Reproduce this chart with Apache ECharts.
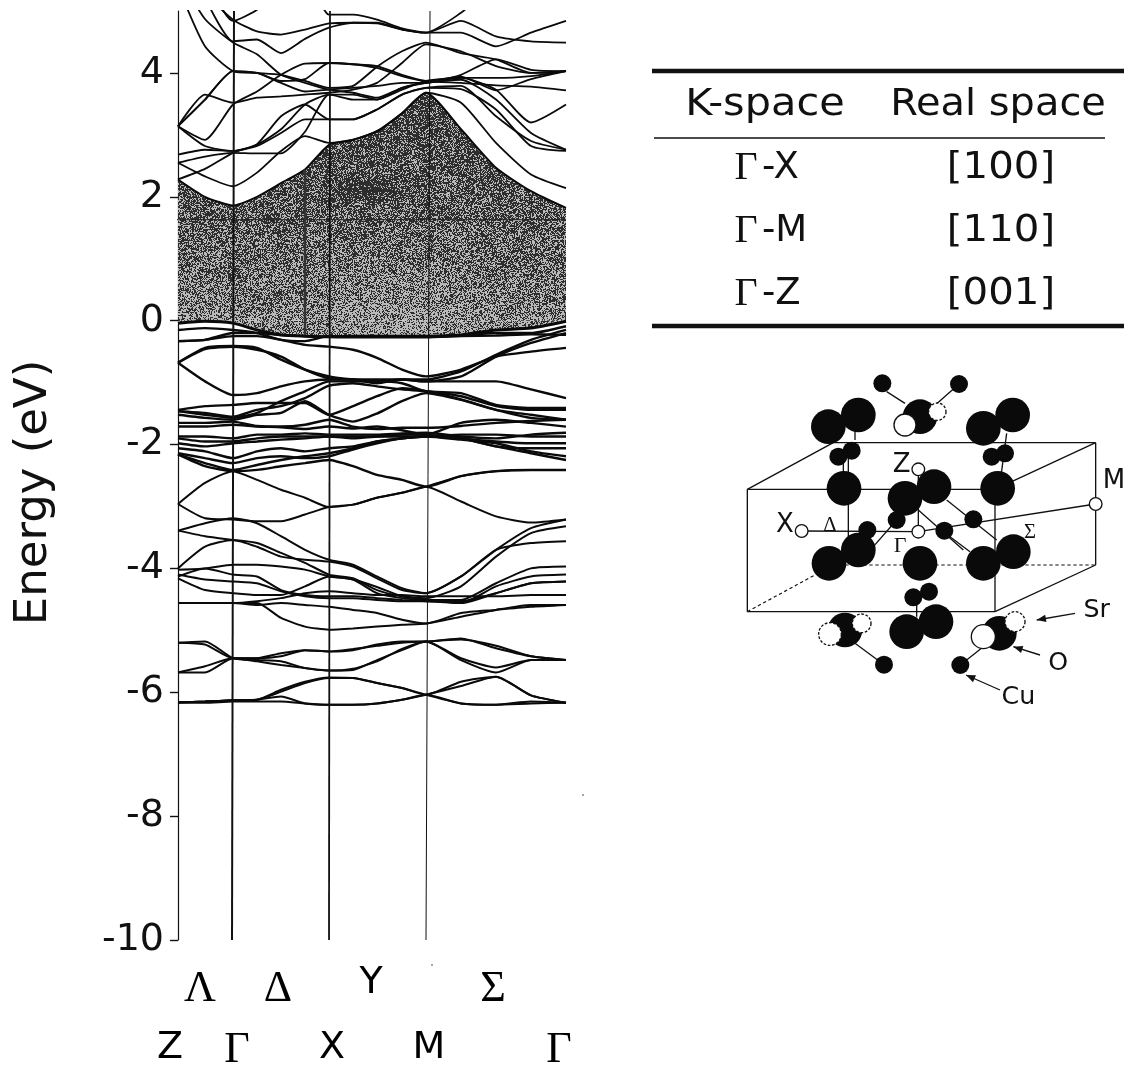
<!DOCTYPE html>
<html><head><meta charset="utf-8">
<style>html,body{margin:0;padding:0;background:#fff}#c{width:1131px;height:1068px}</style>
<script src="https://cdn.jsdelivr.net/npm/echarts@6/dist/echarts.min.js"></script>
</head><body><div id="c"></div>
<script>
// k-path sample positions (Z=0, Gamma=55, X=151, M=248, Gamma=388)
const kPath = [0,27,55,79,103,127,151,175,199,224,248,283,318,353,388];
const energyTicks = [-10,-8,-6,-4,-2,0,2,4];
const conductionEdge = [2.28,2.0,1.86,2.0,2.22,2.44,2.84,2.92,3.06,3.35,3.68,3.09,2.47,2.09,1.82];
const valenceEdge = [-.04,-.01,-.04,-.15,-.23,-.25,-.26,-.25,-.25,-.25,-.25,-.23,-.15,-.12,-.01];
const upperBands = [
 [2.55,2.33,2.17,2.39,2.74,2.98,2.87,2.92,3.06,3.35,3.68,3.52,2.87,2.36,2.14],
 [2.68,2.76,2.74,2.82,3.03,3.25,3.25,3.25,3.41,3.65,3.76,3.74,3.41,2.82,2.74],
 [2.55,2.65,2.71,2.70,2.70,3.05,3.65,3.65,3.57,3.76,3.84,3.89,3.57,3.03,2.76],
 [3.14,2.82,2.74,2.84,3.09,3.49,3.65,3.57,3.57,3.73,3.87,3.92,3.73,3.2,3.49],
 [3.14,3.65,3.52,3.60,3.62,3.65,3.68,3.73,3.84,4.16,4.46,4.35,4.11,4.0,4.03],
 [3.14,2.92,3.49,3.70,3.97,4.15,4.16,4.14,4.11,3.97,3.87,3.84,3.8,3.78,3.72],
 [5.4,4.43,4.03,4.0,3.97,3.87,3.76,3.79,4.1,4.35,4.49,4.32,4.22,4.0,4.03],
 [5.6,4.87,4.49,4.30,3.97,3.84,3.73,3.68,3.6,3.76,3.84,3.92,3.92,3.95,4.03],
 [6,5.2,4.51,4.54,4.32,4.55,4.73,4.81,4.81,4.70,4.65,4.84,4.59,4.51,4.49],
 [6,5.3,4.86,4.67,4.62,4.70,4.80,4.81,4.8,4.7,4.65,4.65,4.43,4.65,4.84],
 [6,5.5,4.84,5.02,5.4,5.6,4.94,4.94,4.86,4.72,4.65,4.97,5.4,5.4,5.4],
 [2.28,2.45,2.71,2.85,3.3,3.49,3.25,3.25,3.41,3.65,3.76,3.79,3.3,2.9,2.76],
 [3.14,3.57,4.03,4.0,3.87,3.9,4.16,4.14,4.08,3.95,3.87,3.94,3.72,3.9,4.03],
 [3.14,3.57,4.03,4.0,3.84,3.7,3.73,3.76,3.79,3.84,3.84,3.97,4.22,4.05,4.03]
];
const valenceBands = [
 [-.15,-.12,-.15,-.20,-.31,-.33,-.25,-.25,-.26,-.26,-.25,-.24,-.20,-.20,-.09],
 [-.33,-.31,-.20,-.20,-.23,-.25,-.26,-.27,-.27,-.27,-.27,-.25,-.24,-.22,-.23],
 [-.33,-.31,-.25,-.25,-.31,-.39,-.42,-.47,-.60,-.79,-.90,-.79,-.58,-.50,-.44],
 [-.68,-.44,-.41,-.44,-.63,-.79,-.90,-.95,-.98,-.95,-.95,-.82,-.55,-.31,-.15],
 [-.68,-.98,-1.20,-1.17,-1.06,-.98,-.95,-.95,-.95,-.95,-.98,-.98,-.98,-1.11,-1.25],
 [-.68,-.46,-.42,-.47,-.58,-.79,-.93,-.95,-1.01,-.95,-.98,-.90,-.58,-.36,-.20],
 [-1.44,-1.38,-1.36,-1.33,-1.33,-1.33,-1.52,-1.38,-1.22,-1.09,-1.14,-1.27,-1.44,-1.57,-1.60],
 [-1.46,-1.49,-1.55,-1.44,-1.38,-1.25,-1.05,-1.01,-1.06,-1.11,-1.14,-1.22,-1.38,-1.44,-1.44],
 [-1.46,-1.52,-1.57,-1.49,-1.30,-1.14,-.98,-.98,-.98,-1.01,-1.14,-1.17,-1.36,-1.41,-1.41],
 [-1.52,-1.57,-1.60,-1.52,-1.49,-1.30,-1.52,-1.63,-1.50,-1.30,-1.17,-1.28,-1.44,-1.52,-1.60],
 [-1.65,-1.65,-1.63,-1.70,-1.71,-1.68,-1.60,-1.71,-1.75,-1.73,-1.73,-1.70,-1.65,-1.62,-1.60],
 [-1.71,-1.71,-1.68,-1.71,-1.72,-1.75,-1.71,-1.74,-1.71,-1.77,-1.84,-1.65,-1.60,-1.65,-1.71],
 [-1.87,-1.87,-1.90,-1.84,-1.84,-1.82,-1.84,-1.84,-1.84,-1.82,-1.81,-1.87,-1.90,-1.84,-1.81],
 [-1.90,-1.95,-1.95,-1.90,-1.87,-1.87,-1.87,-1.87,-1.87,-1.87,-1.87,-1.84,-1.84,-1.87,-1.87],
 [-1.98,-2.03,-1.98,-1.95,-1.92,-1.90,-1.87,-1.90,-1.87,-1.84,-1.84,-1.90,-1.95,-1.98,-1.98],
 [-2.06,-2.11,-2.22,-2.11,-2.06,-2.11,-2.06,-2.03,-1.95,-1.90,-1.87,-1.90,-2.03,-2.06,-2.06],
 [-2.16,-2.30,-2.41,-2.33,-2.25,-2.19,-2.14,-2.06,-1.95,-1.90,-1.87,-1.90,-2.03,-2.14,-2.25],
 [-2.14,-2.22,-2.30,-2.22,-2.19,-2.22,-2.19,-2.08,-1.98,-1.90,-1.87,-1.92,-1.98,-2.11,-2.19],
 [-2.16,-2.35,-2.43,-2.41,-2.35,-2.30,-2.25,-2.35,-2.49,-2.57,-2.68,-2.51,-2.43,-2.41,-2.41]
];
const lowerBands = [
 [-2.96,-2.62,-2.43,-2.57,-2.73,-2.86,-3.01,-2.97,-2.86,-2.78,-2.68,-2.92,-3.16,-3.26,-3.21],
 [-2.96,-3.19,-3.21,-3.24,-3.24,-3.13,-3.01,-2.97,-2.86,-2.78,-2.68,-2.51,-2.43,-2.41,-2.41],
 [-3.39,-3.27,-3.19,-3.27,-3.48,-3.70,-3.86,-3.94,-4.13,-4.32,-4.40,-4.13,-3.70,-3.35,-3.21],
 [-3.39,-3.48,-3.54,-3.59,-3.75,-3.91,-4.10,-4.16,-4.35,-4.45,-4.48,-4.29,-3.81,-3.43,-3.32],
 [-4.0,-3.65,-3.54,-3.65,-3.81,-3.86,-3.89,-3.97,-4.16,-4.35,-4.40,-4.13,-3.70,-3.59,-3.56],
 [-4.02,-4.0,-3.94,-3.94,-3.97,-4.02,-4.13,-4.18,-4.40,-4.48,-4.51,-4.51,-4.24,-4.0,-3.97],
 [-4.13,-4.0,-4.10,-4.13,-4.35,-4.43,-4.45,-4.45,-4.48,-4.51,-4.53,-4.56,-4.29,-4.13,-4.10],
 [-4.16,-4.35,-4.40,-4.43,-4.43,-4.29,-4.13,-4.18,-4.30,-4.45,-4.50,-4.56,-4.40,-4.24,-4.21],
 [-4.10,-4.18,-4.21,-4.24,-4.37,-4.45,-4.48,-4.48,-4.51,-4.53,-4.53,-4.53,-4.40,-4.24,-4.21],
 [-4.56,-4.56,-4.56,-4.53,-4.48,-4.40,-4.37,-4.40,-4.43,-4.43,-4.45,-4.45,-4.45,-4.43,-4.43],
 [-4.56,-4.56,-4.56,-4.56,-4.80,-4.94,-4.99,-4.97,-4.94,-4.91,-4.89,-4.78,-4.67,-4.59,-4.59],
 [-4.56,-4.56,-4.56,-4.59,-4.56,-4.59,-4.62,-4.67,-4.72,-4.83,-4.89,-4.72,-4.67,-4.62,-4.59],
 [-5.20,-5.23,-5.45,-5.45,-5.42,-5.32,-5.34,-5.32,-5.23,-5.18,-5.18,-5.13,-5.29,-5.42,-5.48],
 [-5.20,-5.18,-5.45,-5.48,-5.50,-5.61,-5.65,-5.64,-5.48,-5.32,-5.18,-5.48,-5.68,-5.48,-5.48],
 [-5.68,-5.58,-5.45,-5.45,-5.37,-5.32,-5.34,-5.30,-5.25,-5.20,-5.18,-5.15,-5.25,-5.42,-5.48],
 [-5.68,-5.68,-5.45,-5.50,-5.56,-5.61,-5.65,-5.62,-5.50,-5.30,-5.18,-5.45,-5.60,-5.48,-5.48],
 [-6.16,-6.15,-6.13,-6.12,-5.96,-5.83,-5.76,-5.77,-5.85,-5.93,-6.04,-5.83,-5.75,-6.05,-6.17],
 [-6.16,-6.15,-6.13,-6.12,-6.07,-6.18,-6.20,-6.20,-6.18,-6.12,-6.04,-6.18,-6.20,-6.18,-6.17],
 [-6.16,-6.15,-6.13,-6.12,-5.99,-5.85,-5.77,-5.77,-5.85,-5.93,-6.04,-6.18,-6.20,-6.15,-6.17],
 [-6.17,-6.17,-6.15,-6.15,-6.15,-6.18,-6.20,-6.20,-6.18,-6.12,-6.04,-5.90,-5.75,-6.05,-6.17]
];
const symmetryTop = [56,152,252];
const symmetryBottom = [54,151,248];
const symmetryWidth = [2,1.8,1];
const pathNames = ['Λ','Δ','Y','Σ','Z','Γ','X','M','Γ'];
const pathK = [22,100,193,315,-8,59,154,251,381];
const pathDrop = [49,49,43,49,108,110,108,108,110];
const tableHead = ['K-space','Real space'];
const tableK = ['-X','-M','-Z'];
const tableReal = ['[100]','[110]','[001]'];
// crystal sketch (drawn in 3x coordinates inside its group)
const bigAtoms = [[295,200],[385,165],[570,170],[760,205],[848,165],[342,385],[612,380],[803,385],[525,415],[297,610],[385,570],[570,610],[760,610],[850,575],[345,810],[530,815],[618,785],[808,820]];
const smallAtoms = [[457,70],[687,72],[325,290],[365,272],[785,290],[825,280],[412,510],[500,480],[643,512],[730,478],[550,712],[597,695],[462,914],[691,915]];
const openAtoms = [[525,195,33,0],[622,155,26,1],[300,822,34,1],[395,790,28,1],[760,830,36,0],[855,785,30,1]];
const kPoints = [[565,328],[215,513],[565,515],[1097,432]];
const boxLines = [[52,388,795,388],[52,388,52,755],[52,755,795,755],[795,388,795,755],[52,388,310,248],[310,248,1097,248],[795,388,1097,248],[1097,248,1097,615],[795,755,1097,615],[355,248,355,610],[215,513,565,515],[565,515,1097,432],[565,328,565,515],[470,95,525,130],[687,72,610,140],[650,420,800,540],[640,515,720,575],[565,450,700,570],[412,510,340,590],[500,480,430,560],[462,914,375,850],[691,915,760,860],[340,370,340,280],[375,240,375,190],[810,370,830,220],[560,720,560,770]];
const dashLines = [[52,755,310,615],[310,615,1097,615]];
const arrows = [[1035,760,920,780],[930,885,850,860],[810,990,708,945]];
const sketchText = [['M',1152,365,78,0],['Z',515,315,78,0],['X',165,495,78,0],['Δ',300,497,62,1],['Γ',510,560,66,1],['Σ',900,518,62,1],['Sr',1100,750,76,0],['O',985,910,76,0],['Cu',865,1012,76,0]];
const strayDots = [[583,795],[432,965]];
const SANS='"DejaVu Sans"', SERIF='"Liberation Serif"';

// stippled texture for the shaded gap (deterministic generator)
function stipple(){
  const c=document.createElement('canvas'); c.width=1131; c.height=1068;
  const g=c.getContext('2d'), im=g.createImageData(1131,1068); let s=12345;
  for(let y=0;y<1068;y++)for(let x=0;x<1131;x++){
    s=(s*1664525+1013904223)>>>0;
    const r=s/4294967296;
    let p=0.74-(y-120)/200*0.26;
    const cx=(x-395)/80, cy=(y-330)/60;
    p-=0.14*Math.exp(-(cx*cx+cy*cy));
    const ex=(x-180)/60, ey=(y-330)/30;
    p-=0.1*Math.exp(-(ex*ex+ey*ey));
    const bx=(x-368)/35, by=(y-190)/12;
    p+=0.25*Math.exp(-(bx*bx+by*by));
    const v=r<p?45:185, i=(y*1131+x)*4;
    im.data[i]=im.data[i+1]=im.data[i+2]=v; im.data[i+3]=255;
  }
  g.putImageData(im,0,0); return c;
}
const tex={image:stipple(),repeat:'repeat'};
const zip=v=>kPath.map((k,i)=>[k,v[i]]);
const series=[];
[conductionEdge,valenceEdge].forEach(v=>series.push({type:'line',data:zip(v),smooth:.2,symbol:'none',silent:true,z:1,
  lineStyle:{width:v===conductionEdge?2:3,color:'#0a0a0a'},areaStyle:{color:tex,opacity:1,origin:0}}));
series.push({type:'line',data:[[-1,1.63],[388,1.63]],symbol:'none',silent:true,z:2,lineStyle:{width:1,color:'#222'}});
series.push({type:'line',data:[[127,2.44],[127,-.24]],symbol:'none',silent:true,z:2,lineStyle:{width:2.5,color:'#333'}});
upperBands.forEach(v=>series.push({type:'line',data:zip(v),smooth:.2,symbol:'none',silent:true,z:3,lineStyle:{width:1.8,color:'#0a0a0a'}}));
valenceBands.forEach(v=>series.push({type:'line',data:zip(v),smooth:.2,symbol:'none',silent:true,z:3,lineStyle:{width:2.4,color:'#0a0a0a'}}));
lowerBands.forEach(v=>series.push({type:'line',data:zip(v),smooth:.2,symbol:'none',silent:true,z:3,lineStyle:{width:2,color:'#0a0a0a'}}));
symmetryTop.forEach((k,i)=>series.push({type:'line',data:[[k,5],[symmetryBottom[i],-10]],symbol:'none',silent:true,z:4,lineStyle:{width:symmetryWidth[i],color:'#111'}}));
series.push({type:'scatter',clip:false,silent:true,z:5,symbolSize:1,itemStyle:{color:'transparent',opacity:1},
  data:pathNames.map((n,i)=>{
    const greek=/[ΛΔΣΓ]/.test(n);
    return {value:[pathK[i],-10],label:{show:true,formatter:n,position:'inside',offset:[0,pathDrop[i]],
      fontFamily:greek?SERIF:SANS,fontSize:greek?44:38,color:'#000'}};
  })});

// graphic: table + crystal sketch
const T=(text,x,y,size,fam,sx,left)=>({type:'text',x,y,scaleX:sx||1,silent:true,style:{text,fill:'#111',font:`${size}px ${fam||SANS}`,align:left?'left':'center',verticalAlign:'middle'}});
const L=(a,w,dash)=>({type:'line',silent:true,shape:{x1:a[0],y1:a[1],x2:a[2],y2:a[3]},style:{stroke:'#111',lineWidth:w,lineDash:dash||null}});
const graphic=[
  L([652,71,1124,71],4.5),L([654,138,1105,138],1.6),L([652,326,1124,326],4.5),
  T(tableHead[0],765,105,38,SANS,1.09),T(tableHead[1],998,105,38,SANS,1.05)
];
[168,231,294].forEach((y,i)=>{
  graphic.push(T('Γ',746,y,40,SERIF),T(tableK[i],762,y,37,SANS,1,true),T(tableReal[i],1001,y,38,SANS,1.06));
});
strayDots.forEach(d=>graphic.push({type:'circle',silent:true,shape:{cx:d[0],cy:d[1],r:.8},style:{fill:'#333'}}));
const kids=[];
boxLines.forEach(a=>kids.push(L(a,4)));
dashLines.forEach(a=>kids.push(L(a,3.5,[10,8])));
bigAtoms.forEach(a=>kids.push({type:'circle',silent:true,shape:{cx:a[0],cy:a[1],r:52},style:{fill:'#0a0a0a'}}));
smallAtoms.forEach(a=>kids.push({type:'circle',silent:true,shape:{cx:a[0],cy:a[1],r:27},style:{fill:'#0a0a0a'}}));
openAtoms.forEach(a=>kids.push({type:'circle',silent:true,shape:{cx:a[0],cy:a[1],r:a[2]},style:{fill:'#fff',stroke:'#111',lineWidth:4,lineDash:a[3]?[8,5]:null}}));
kPoints.forEach(a=>kids.push({type:'circle',silent:true,shape:{cx:a[0],cy:a[1],r:19},style:{fill:'#fff',stroke:'#111',lineWidth:4}}));
arrows.forEach(a=>{
  kids.push(L(a,4));
  const ang=Math.atan2(a[3]-a[1],a[2]-a[0]), h=30, w=.38;
  kids.push({type:'polygon',silent:true,shape:{points:[[a[2],a[3]],[a[2]-h*Math.cos(ang-w),a[3]-h*Math.sin(ang-w)],[a[2]-h*Math.cos(ang+w),a[3]-h*Math.sin(ang+w)]]},style:{fill:'#111'}});
});
sketchText.forEach(t=>kids.push(T(t[0],t[1],t[2],t[3],t[4]?SERIF:SANS)));
graphic.push({type:'group',x:730,y:360,scaleX:1/3,scaleY:1/3,silent:true,children:kids});

const chart=echarts.init(document.getElementById('c'),null,{renderer:'canvas'});
chart.setOption({
  animation:false,backgroundColor:'#fff',
  grid:{left:177,right:565,top:11,bottom:128},
  xAxis:{type:'value',min:-1,max:388,show:false},
  yAxis:{type:'value',min:-10,max:5,splitLine:{show:false},
    name:'Energy (eV)',nameLocation:'middle',nameGap:120,nameTextStyle:{fontFamily:SANS,fontSize:45,color:'#111',padding:[0,34,0,0]},
    axisLine:{show:true,lineStyle:{color:'#111',width:1.2}},
    axisTick:{show:true,length:8,customValues:energyTicks,lineStyle:{color:'#111',width:1.4}},
    axisLabel:{customValues:energyTicks,margin:13,fontFamily:SANS,fontSize:38,color:'#111',formatter:v=>String(v)}},
  series,
  graphic:{elements:graphic}
});
</script></body></html>
